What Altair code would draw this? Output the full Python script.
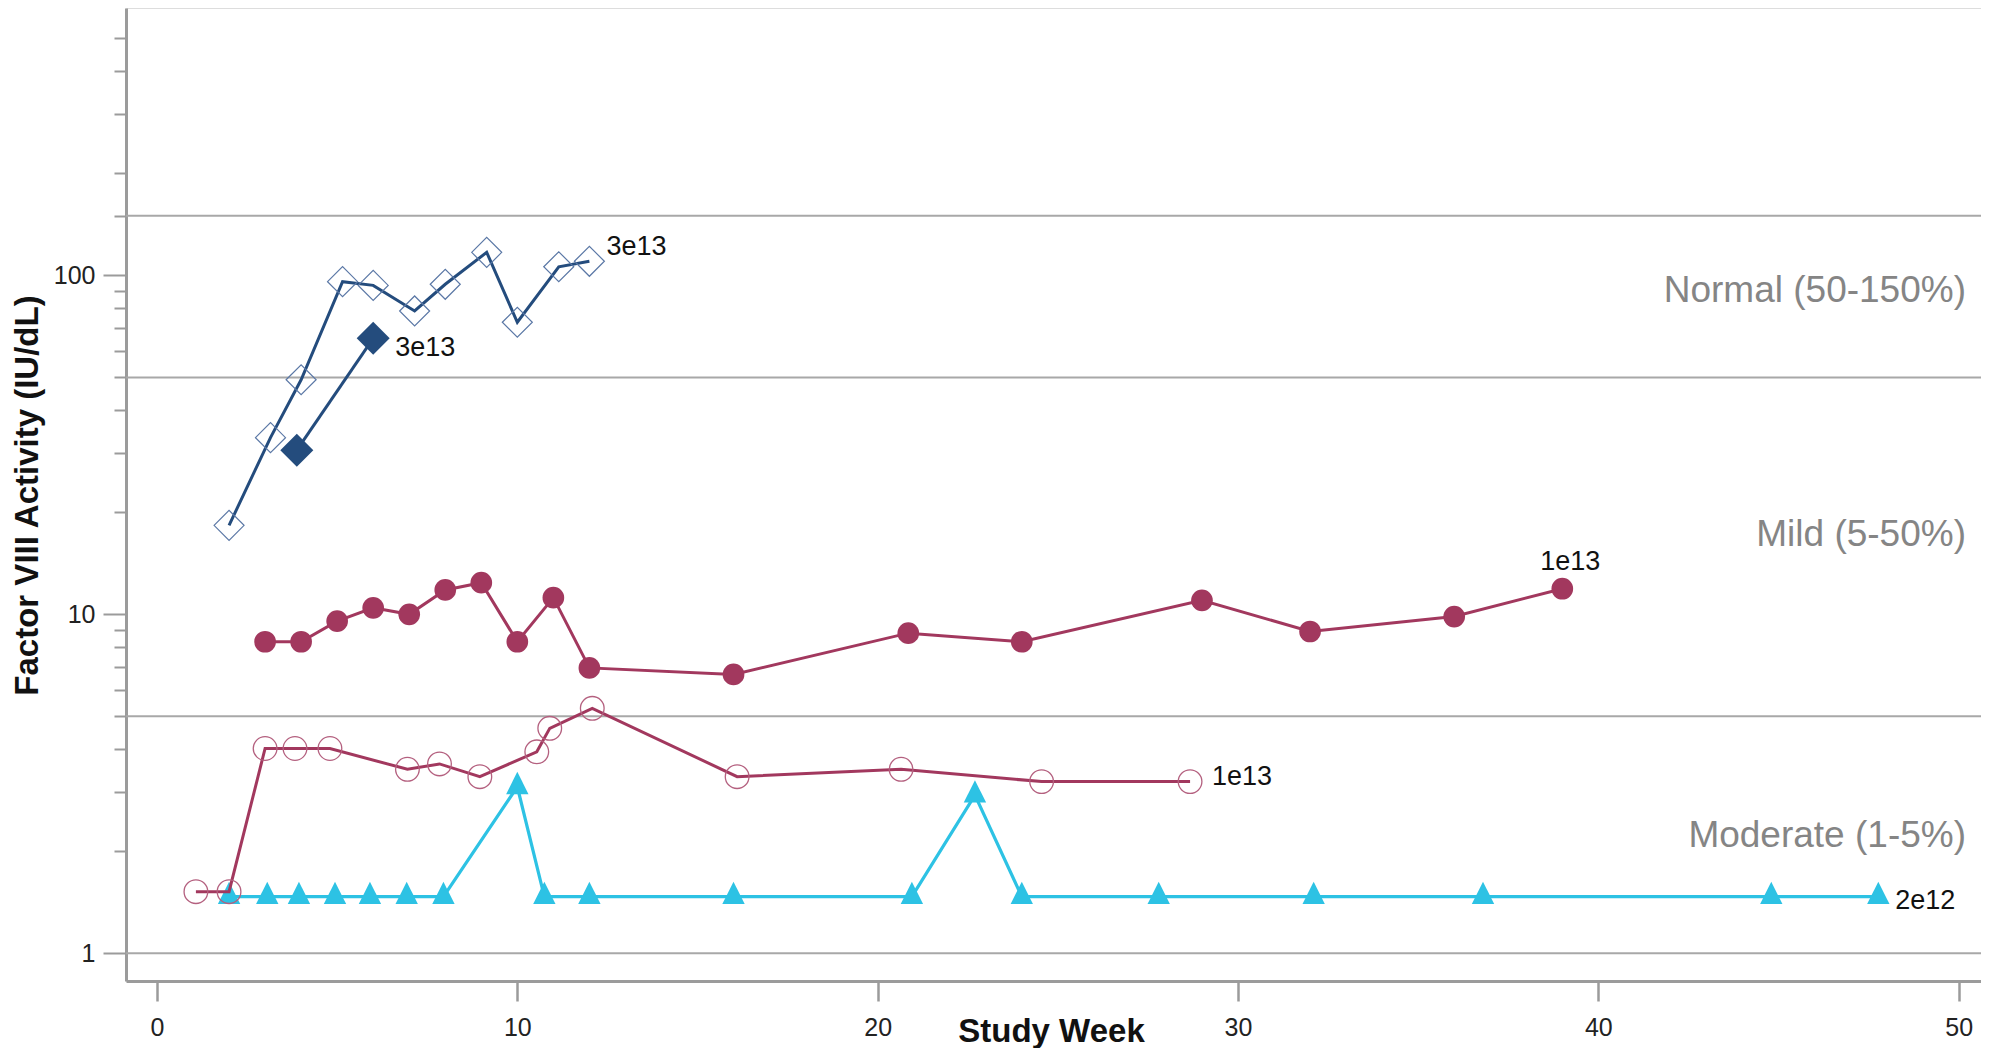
import math
import altair as alt
import pandas as pd

# ---------------- data ----------------
open_diamond_week = [2, 3.15, 4, 5.15, 6, 7.15, 8, 9.15, 10, 11.15, 12]
open_diamond_fviii = [18.3, 33.2, 49.2, 95.8, 93.4, 78.5, 94.1, 116.9, 72.7, 106, 110]

filled_diamond_week = [3.88, 6]
filled_diamond_fviii = [30.5, 65.2]

filled_circle_week = [3, 4, 5, 6, 7, 8, 9, 10, 11, 12, 16, 20.85, 24, 29, 32, 36, 39]
filled_circle_fviii = [8.3, 8.3, 9.55, 10.45, 10.0, 11.8, 12.4, 8.3, 11.2, 6.95, 6.65, 8.8, 8.3, 11.0, 8.9, 9.85, 11.9]

open_circle_week = [1.08, 2, 3, 3.83, 4.8, 6.95, 7.84, 8.96, 10.54, 10.9, 12.08, 16.1, 20.65, 24.55, 28.67]
open_circle_fviii = [1.52, 1.52, 4.02, 4.02, 4.02, 3.49, 3.62, 3.32, 3.93, 4.61, 5.28, 3.32, 3.49, 3.21, 3.21]

triangle_week = [2, 3.06, 3.94, 4.94, 5.91, 6.93, 7.95, 10, 10.75, 12, 16, 20.95, 22.7, 24, 27.8, 32.1, 36.8, 44.8, 47.77]
triangle_fviii = [1.47, 1.47, 1.47, 1.47, 1.47, 1.47, 1.47, 3.1, 1.47, 1.47, 1.47, 1.47, 2.93, 1.47, 1.47, 1.47, 1.47, 1.47, 1.47]

dose_labels = ["3e13", "3e13", "1e13", "1e13", "2e12"]

band_names = ["Normal (50-150%)", "Mild (5-50%)", "Moderate (1-5%)"]
band_low = [50, 5, 1]
band_high = [150, 50, 5]

grid_levels = [1, 5, 50, 150]
x_ticks = [0, 10, 20, 30, 40, 50]
y_ticks = [1, 2, 3, 4, 5, 6, 7, 8, 9, 10, 20, 30, 40, 50, 60, 70, 80, 90, 100, 150, 200, 300, 400, 500]
y_labeled = [1, 10, 100]

x_domain = [-0.86, 50.62]
y_domain = [0.8286, 614.6]

# ---------------- styles ----------------
FONT = "Liberation Sans"
NAVY = "#244C7D"
NAVY_LIGHT = "#5B78A6"
MAROON = "#A2385E"
MAROON_LIGHT = "#B4607F"
CYAN = "#2DC2E4"
AXIS_GRAY = "#9b9b9b"
GRID_GRAY = "#a8a8a8"
BAND_GRAY = "#858585"

xaxis = alt.Axis(
    values=x_ticks, format="d", title="Study Week",
    titleFont=FONT, titleFontSize=33, titleFontWeight="bold", titleColor="#111111",
    titleBaseline="alphabetic", titleX=925, titleY=60,
    labelFont=FONT, labelFontSize=25, labelColor="#222222", labelPadding=14,
    labelFlush=False, labelOverlap=False,
    tickSize=20, tickWidth=2.5, tickColor=AXIS_GRAY,
    domainColor=AXIS_GRAY, domainWidth=3, grid=False,
)

labeled_test = "indexof(" + str(y_labeled) + ", datum.value) >= 0"
yaxis = alt.Axis(
    values=y_ticks, title="Factor VIII Activity (IU/dL)",
    titleFont=FONT, titleFontSize=33, titleFontWeight="bold", titleColor="#111111",
    titleBaseline="alphabetic", titleAngle=270, titleAlign="center", titleX=-89, titleY=487,
    labelFont=FONT, labelFontSize=25, labelColor="#222222", labelPadding=8,
    labelExpr=labeled_test + " ? format(datum.value, 'd') : ''", labelOverlap=False,
    tickSize={"condition": {"test": labeled_test, "value": 23}, "value": 12},
    tickWidth=2, tickColor=AXIS_GRAY,
    domainColor=AXIS_GRAY, domainWidth=3, grid=False,
)

xscale = alt.Scale(domain=x_domain, nice=False, zero=False)
yscale = alt.Scale(type="log", domain=y_domain, nice=False)


def xch(field="week"):
    return alt.X(f"{field}:Q", scale=xscale, axis=xaxis)


def ych(field="fviii"):
    return alt.Y(f"{field}:Q", scale=yscale, axis=yaxis)


def frame(weeks, vals):
    return pd.DataFrame({"week": weeks, "fviii": vals})


layers = []

# horizontal reference lines
grid_df = pd.DataFrame({"fviii": grid_levels})
layers.append(alt.Chart(grid_df).mark_rule(color=GRID_GRAY, strokeWidth=2).encode(y=ych()))

# cyan triangles series
tri_df = frame(triangle_week, triangle_fviii)
layers.append(alt.Chart(tri_df).mark_line(color=CYAN, strokeWidth=3.2).encode(x=xch(), y=ych()))
layers.append(alt.Chart(tri_df).mark_point(shape="M0,-1.333L-1,0.667L1,0.667Z", filled=True, size=500,
                                          color=CYAN, opacity=1).encode(x=xch(), y=ych()))

# open circles series
oc_df = frame(open_circle_week, open_circle_fviii)
layers.append(alt.Chart(oc_df).mark_line(color=MAROON, strokeWidth=3).encode(x=xch(), y=ych()))
layers.append(alt.Chart(oc_df).mark_point(shape="circle", filled=False, size=560, color=MAROON_LIGHT,
                                         strokeWidth=1.3, opacity=1).encode(x=xch(), y=ych()))

# filled circles series
fc_df = frame(filled_circle_week, filled_circle_fviii)
layers.append(alt.Chart(fc_df).mark_line(color=MAROON, strokeWidth=3).encode(x=xch(), y=ych()))
layers.append(alt.Chart(fc_df).mark_circle(size=470, color=MAROON, opacity=1).encode(x=xch(), y=ych()))

# open diamonds series
od_df = frame(open_diamond_week, open_diamond_fviii)
layers.append(alt.Chart(od_df).mark_line(color=NAVY, strokeWidth=3).encode(x=xch(), y=ych()))
layers.append(alt.Chart(od_df).mark_point(shape="diamond", filled=False, size=900, color=NAVY_LIGHT,
                                         strokeWidth=1.2, opacity=1).encode(x=xch(), y=ych()))

# filled diamonds series
fd_df = frame(filled_diamond_week, filled_diamond_fviii)
layers.append(alt.Chart(fd_df).mark_line(color=NAVY, strokeWidth=3).encode(x=xch(), y=ych()))
layers.append(alt.Chart(fd_df).mark_point(shape="diamond", filled=True, size=1090, color=NAVY,
                                         opacity=1).encode(x=xch(), y=ych()))

# dose labels at the end of each series
series_ends = [
    (open_diamond_week, open_diamond_fviii, dose_labels[0], "left", 17, -6),
    (filled_diamond_week, filled_diamond_fviii, dose_labels[1], "left", 22, 18),
    (filled_circle_week, filled_circle_fviii, dose_labels[2], "center", 8, -19),
    (open_circle_week, open_circle_fviii, dose_labels[3], "left", 22, 3),
    (triangle_week, triangle_fviii, dose_labels[4], "left", 17, 12),
]
for weeks, vals, txt, align, dx, dy in series_ends:
    df = pd.DataFrame({"week": [weeks[-1]], "fviii": [vals[-1]], "label": [txt]})
    layers.append(
        alt.Chart(df).mark_text(align=align, baseline="alphabetic", dx=dx, dy=dy, font=FONT,
                                fontSize=27, color="#111111")
        .encode(x=xch(), y=ych(), text="label:N")
    )

# severity band labels
band_dy = [5, -1, 12]
for name, lo, hi, dy in zip(band_names, band_low, band_high, band_dy):
    df = pd.DataFrame({"week": [x_domain[1]], "fviii": [math.sqrt(lo * hi)], "label": [name]})
    layers.append(
        alt.Chart(df).mark_text(align="right", baseline="alphabetic", dx=-15, dy=dy, font=FONT,
                                fontSize=37, color=BAND_GRAY)
        .encode(x=xch(), y=ych(), text="label:N")
    )

chart = (
    alt.layer(*layers)
    .properties(
        width=1855, height=973,
        padding={"left": 118, "top": 0, "right": 0, "bottom": 67},
        autosize=alt.AutoSizeParams(type="none"),
        background="white",
    )
    .configure_view(stroke=None)
    .configure(font=FONT)
)

chart.save("out.html", embed_options={"renderer": "svg", "actions": False})
